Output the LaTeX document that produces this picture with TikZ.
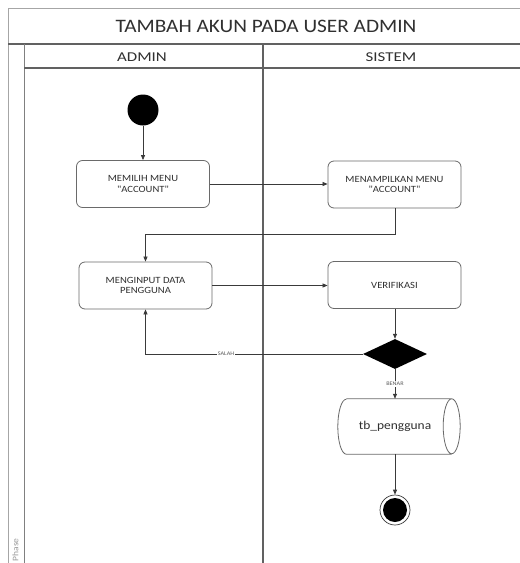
\documentclass[tikz,border=0pt]{standalone}
\usepackage{fontspec}
\setmainfont{Carlito}
\newfontfamily\bodyfont[FakeStretch=1.12]{Carlito}
\newfontfamily\headfont[FakeStretch=1.25]{Carlito}
\usetikzlibrary{arrows.meta,shapes.geometric}
\definecolor{framegray}{HTML}{808080}
\definecolor{linegray}{HTML}{3A3A3A}
\definecolor{boxgray}{HTML}{6A6A6A}
\definecolor{txtgray}{HTML}{303030}
\tikzset{
  frame/.style={draw=framegray, line width=1pt},
  framedark/.style={draw=linegray!80, line width=1.1pt},
  action/.style={draw=boxgray, line width=0.8pt, rounded corners=6pt, fill=white,
    minimum width=133pt, minimum height=47pt, align=center, text=txtgray,
    font=\bodyfont\fontsize{9.5}{10.5}\selectfont, inner sep=0pt},
  flow/.style={draw=linegray, line width=0.75pt, -{Triangle[length=5pt,width=4pt]}},
  guard/.style={fill=white, inner sep=0.8pt, text=txtgray!80,
    font=\bodyfont\fontsize{5.5}{6}\selectfont},
}
\begin{document}
\begin{tikzpicture}[x=1pt,y=-1pt]
\useasboundingbox (0,0) rectangle (520,563);
\fill[white] (0,0) rectangle (520,563);

% swimlane frame
\draw[frame, draw=framegray!70] (8,563) -- (8,8) -- (520,8);
\draw[framedark] (8,44) -- (520,44);
\draw[frame] (24,44) -- (24,563);
\draw[framedark] (24,68) -- (520,68);
\draw[framedark] (263,44) -- (263,563);

\node[font=\bodyfont\fontsize{19}{22}\selectfont, text=txtgray] (title) at (266,26) {TAMBAH AKUN PADA USER ADMIN};
\node[font=\headfont\fontsize{13.5}{16}\selectfont, text=txtgray] (laneA) at (142,57) {ADMIN};
\node[font=\headfont\fontsize{13.5}{16}\selectfont, text=txtgray] (laneS) at (391,57) {SISTEM};
\node[rotate=90, font=\bodyfont\fontsize{8.5}{9}\selectfont, text=framegray!80, anchor=center] (phase) at (15.5,550) {Phase};

% activity nodes
\node[circle, fill=black, minimum size=31pt, inner sep=0pt] (start) at (143,110) {};
\node[action] (pilih) at (143,184) {MEMILIH MENU\\"ACCOUNT"};
\node[action] (tampil) at (394.5,184.5) {MENAMPILKAN MENU\\"ACCOUNT"};
\node[action] (input) at (145.5,285.5) {MENGINPUT DATA\\PENGGUNA};
\node[action] (verif) at (394.5,285) {VERIFIKASI};
\node[diamond, fill=black, minimum width=64pt, minimum height=30pt, inner sep=0pt] (cek) at (395,354) {};

% table store (horizontal cylinder)
\node[minimum width=122pt, minimum height=55pt, inner sep=0pt, text=txtgray,
  font=\bodyfont\fontsize{12}{14}\selectfont] (tabel) at (399,426.5) {\hspace*{-8pt}tb\_pengguna};
\draw[draw=boxgray, line width=0.8pt]
  ([xshift=8.5pt]tabel.north west) -- ([xshift=-8.5pt]tabel.north east)
  arc[start angle=90, end angle=-270, x radius=8.5pt, y radius=27.5pt]
  ([xshift=-8.5pt]tabel.south east) -- ([xshift=8.5pt]tabel.south west)
  arc[start angle=270, end angle=90, x radius=8.5pt, y radius=27.5pt];

\node[circle, draw=linegray, line width=0.7pt, fill=white, minimum size=30pt, inner sep=0pt] (akhir) at (395,510) {};
\node[circle, fill=black, minimum size=24pt, inner sep=0pt] (akhirdot) at (akhir.center) {};

% control flow
\draw[flow] (start) -- (pilih);
\draw[flow] (pilih.east) -- (tampil.west |- pilih.east);
\coordinate (turn) at (395,234);
\draw[flow] (tampil.south -| turn) -- (turn) -- (turn -| input.north) -- (input.north);
\draw[flow] (input.east) -- (verif.west |- input.east);
\draw[flow] (verif.south -| cek.north) -- (cek.north);
\coordinate (back) at (145.5,354);
\draw[flow] (cek.west) -- (back) -- (input.south);
\node[guard] (salah) at (226,354) {SALAH};
\draw[flow] (cek.south) -- (cek.south |- tabel.north);
\node[guard] (benar) at (395,384) {BENAR};
\draw[flow] (cek.south |- tabel.south) -- (akhir.north);
\end{tikzpicture}
\end{document}
